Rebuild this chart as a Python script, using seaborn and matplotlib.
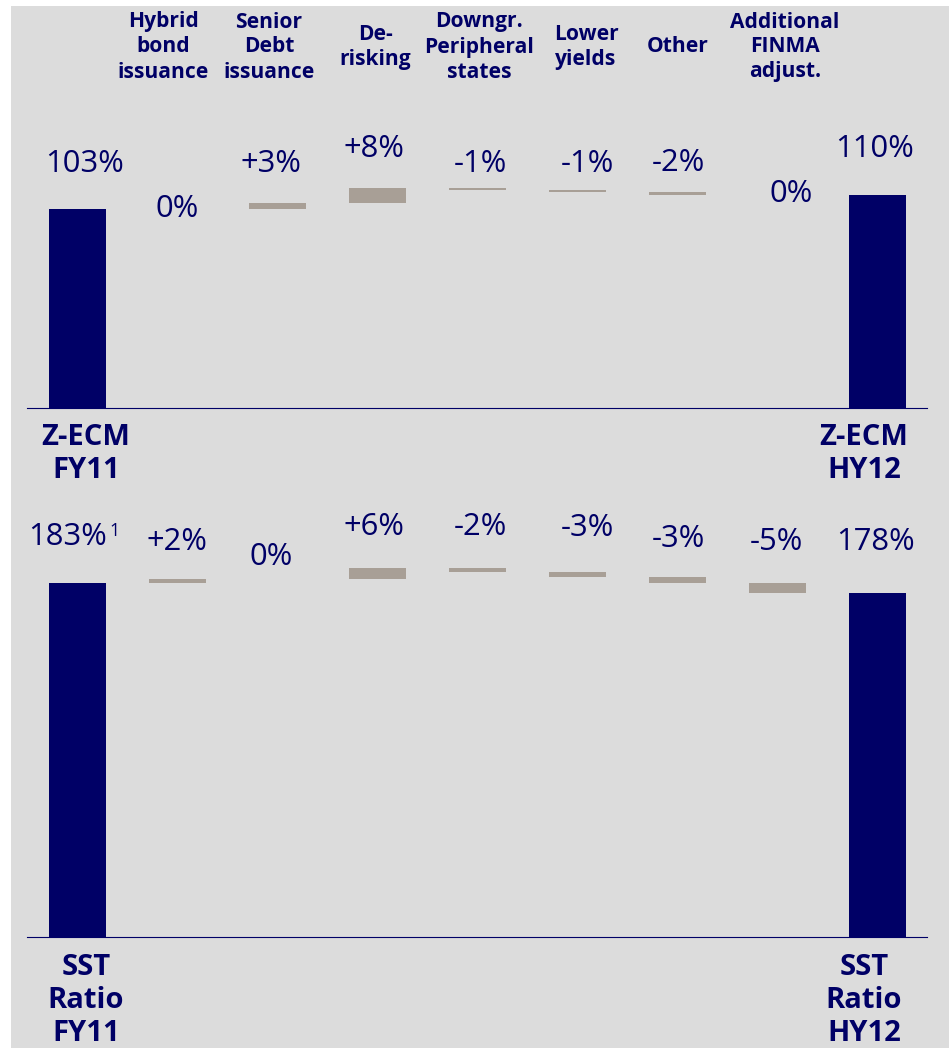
import numpy as np
import pandas as pd
import matplotlib
matplotlib.use("Agg")
import matplotlib.pyplot as plt
import seaborn as sns
from matplotlib.patches import Rectangle
from matplotlib.transforms import blended_transform_factory

# ---------------- data ----------------
steps = ["Start", "Hybrid bond issuance", "Senior Debt issuance", "De-risking",
         "Downgr. Peripheral states", "Lower yields", "Other",
         "Additional FINMA adjust.", "End"]
header_labels = ["Hybrid\nbond\nissuance", "Senior\nDebt\nissuance", "De-\nrisking",
                 "Downgr.\nPeripheral\nstates", "Lower\nyields", "Other",
                 "Additional\nFINMA\nadjust."]

zecm_start = 103
zecm_deltas = [0, 3, 8, -1, -1, -2, 0]
zecm_end = 110
zecm_labels = ["103%", "0%", "+3%", "+8%", "-1%", "-1%", "-2%", "0%", "110%"]
zecm_names = ["Z-ECM\nFY11", "Z-ECM\nHY12"]

sst_start = 183
sst_deltas = [2, 0, 6, -2, -3, -3, -5]
sst_end = 178
sst_labels = ["183%", "+2%", "0%", "+6%", "-2%", "-3%", "-3%", "-5%", "178%"]
sst_names = ["SST\nRatio\nFY11", "SST\nRatio\nHY12"]
footnote_mark = "1"

# ---------------- layout / style ----------------
NAVY = "#000066"
GREY = "#a89f96"
BG = "#dcdcdc"
W, H = 949, 1048
BAR_W = 0.57

# label offsets in pixels (dx from bar centre, dy = baseline above bar top)
zecm_dx = [8, 0, -6, -3, 3, 10, 1, 14, -2]
zecm_dy = [37, -8, 31, 31, 16, 18, 21, -7, 38]
sst_dx = [-9, 0, -6, -3, 3, 10, 1, -1, -2]
sst_dy = [38, 29, 14, 33, 33, 36, 30, 33, 43]
header_dx = [-14, -8, -2, 2, 9, 1, 8]
name_dx = [9, -13]

sns.set_style("white")
plt.rcParams["font.family"] = ["Open Sans", "DejaVu Sans"]

fig = plt.figure(figsize=(W / 100, H / 100), dpi=100)
fig.patch.set_facecolor("white")
fig.add_artist(Rectangle((11 / W, 0), 1 - 11 / W, 1 - 6 / H,
                         transform=fig.transFigure, facecolor=BG,
                         edgecolor="none", zorder=-10))

PX_PER_PCT = 1.933
ax_left = 27 / W
ax_width = 900 / W


def make_axes(base_px, ymax):
    h = ymax * PX_PER_PCT
    ax = fig.add_axes([ax_left, (H - base_px) / H, ax_width, h / H])
    ax.set_facecolor("none")
    return ax


def waterfall(ax, start, deltas, end, labels, dxs, dys, names, name_top_px, base_px, ymax):
    deltas = np.asarray(deltas, dtype=float)
    new = start + np.cumsum(deltas)
    prev = np.concatenate([[start], new[:-1]])
    lo = np.minimum(prev, new)
    hi = np.maximum(prev, new)

    tot_df = pd.DataFrame({"step": [steps[0], steps[-1]], "value": [start, end]})
    sns.barplot(data=tot_df, x="step", y="value", order=steps, color=NAVY,
                width=BAR_W, saturation=1, linewidth=0, errorbar=None, ax=ax)
    d_df = pd.DataFrame({"step": steps[1:-1], "value": np.abs(deltas)})
    sns.barplot(data=d_df, x="step", y="value", order=steps, color=GREY,
                width=BAR_W, saturation=1, linewidth=0, errorbar=None,
                bottom=lo, ax=ax)

    ax.set_xlim(-0.5, len(steps) - 0.5)
    ax.set_ylim(0, ymax)
    ax.set_xticks([])
    ax.set_yticks([])
    ax.set_xlabel("")
    ax.set_ylabel("")
    for s in ["top", "left", "right"]:
        ax.spines[s].set_visible(False)
    ax.spines["bottom"].set_color(NAVY)
    ax.spines["bottom"].set_linewidth(0.8)

    tops = np.concatenate([[start], hi, [end]])
    for i, (lab, t) in enumerate(zip(labels, tops)):
        ax.annotate(lab, xy=(i, t), xytext=(dxs[i], dys[i]),
                    textcoords="offset pixels", ha="center", va="baseline",
                    fontsize=22.3, color=NAVY)

    for j, i in enumerate([0, len(steps) - 1]):
        ax.annotate(names[j], xy=(i, 0), xytext=(name_dx[j], -(name_top_px - base_px)),
                    textcoords="offset pixels", ha="center", va="top",
                    multialignment="center", fontsize=21, fontweight="bold",
                    color=NAVY, linespacing=1.18)
    return tops


# top panel: Z-ECM
ax1 = make_axes(408, 160)
waterfall(ax1, zecm_start, zecm_deltas, zecm_end, zecm_labels, zecm_dx, zecm_dy,
          zecm_names, 423, 408, 160)

# headers
blend = blended_transform_factory(ax1.transData, fig.transFigure)
for k, txt in enumerate(header_labels):
    ax1.annotate(txt, xy=(k + 1, 1 - 47 / H), xycoords=blend,
                 xytext=(header_dx[k], 0), textcoords="offset pixels",
                 ha="center", va="center", multialignment="center",
                 fontsize=15.1, fontweight="bold", color=NAVY, linespacing=1.25)

# bottom panel: SST
ax2 = make_axes(937, 240)
tops2 = waterfall(ax2, sst_start, sst_deltas, sst_end, sst_labels, sst_dx, sst_dy,
                  sst_names, 953, 937, 240)
ax2.annotate(footnote_mark, xy=(0, tops2[0]), xytext=(38, 47),
             textcoords="offset pixels", ha="center", va="baseline",
             fontsize=13, color=NAVY)

fig.savefig("out.png", dpi=100, facecolor=fig.get_facecolor())
